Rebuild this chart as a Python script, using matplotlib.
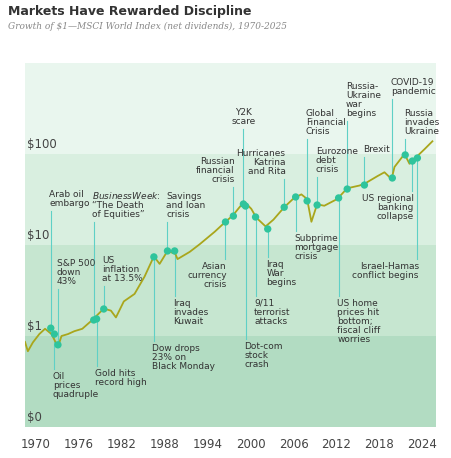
import matplotlib
matplotlib.use("Agg")
import matplotlib.pyplot as plt
from matplotlib.ticker import NullLocator
import numpy as np

plt.rcParams['font.family'] = ['Liberation Sans Narrow', 'DejaVu Sans']

years = [1968.5, 1968.9, 1969.6, 1970.5, 1971.3, 1972.2, 1973.1, 1973.6, 1974.5, 1975.4, 1976.5, 1977.9,
         1979.5, 1980.5, 1981.2, 1982.3, 1983.8, 1985.2, 1986.5, 1987.3, 1988.4, 1989.5, 1989.8,
         1991.5, 1992.9, 1995.0, 1996.5, 1997.5, 1999.1, 2000.1, 2000.8, 2002.1, 2003.2,
         2004.7, 2006.1, 2007.1, 2007.9, 2008.5, 2009.3, 2010.3, 2012.1, 2013.5, 2015.2,
         2015.9, 2017.7, 2018.7, 2019.7, 2020.1, 2021.5, 2022.2, 2023.3, 2024.3, 2025.4]
values = [0.86, 0.68, 0.85, 1.05, 1.2, 1.05, 0.76, 1.0, 1.05, 1.13, 1.2, 1.5,
          2.0, 1.9, 1.6, 2.4, 2.9, 4.5, 7.5, 6.2, 8.6, 8.0, 7.0,
          8.4, 10.2, 14, 18, 21, 30, 25, 20, 16, 19,
          26, 33, 36, 32, 18, 28, 27, 32, 42, 45,
          47, 57, 63, 53, 72, 100, 78, 95, 113, 138]

# (year, value, line end value, label, ha, direction)
events = [
    (1972.1, 1.22, 23.6, "Arab oil\nembargo", "left", "up"),
    (1972.6, 1.05, 0.43, "Oil\nprices\nquadruple", "left", "down"),
    (1973.1, 0.80, 3.28, "S&P 500\ndown\n43%", "left", "up"),
    (1978.1, 1.50, 17.9, "$\\it{BusinessWeek}$:\n\u201cThe Death\nof Equities\u201d", "left", "up"),
    (1978.5, 1.54, 0.47, "Gold hits\nrecord high", "left", "down"),
    (1979.5, 1.98, 3.54, "US\ninflation\nat 13.5%", "left", "up"),
    (1986.5, 7.4, 0.88, "Dow drops\n23% on\nBlack Monday", "left", "down"),
    (1988.4, 8.6, 17.9, "Savings\nand loan\ncrisis", "left", "up"),
    (1989.4, 8.6, 2.75, "Iraq\ninvades\nKuwait", "left", "down"),
    (1996.5, 17.9, 7.0, "Asian\ncurrency\ncrisis", "right", "down"),
    (1997.6, 20.8, 43.3, "Russian\nfinancial\ncrisis", "right", "up"),
    (1999.0, 28.2, 188, "Y2K\nscare", "center", "up"),
    (1999.3, 26.8, 0.93, "Dot-com\nstock\ncrash", "left", "down"),
    (2000.7, 20.3, 2.75, "9/11\nterrorist\nattacks", "left", "down"),
    (2002.4, 15.0, 7.4, "Iraq\nWar\nbegins", "left", "down"),
    (2004.7, 26.0, 53, "Hurricanes\nKatrina\nand Rita", "right", "up"),
    (2006.3, 33.7, 14.2, "Subprime\nmortgage\ncrisis", "left", "down"),
    (2007.9, 30.5, 146, "Global\nFinancial\nCrisis", "left", "up"),
    (2009.3, 27.5, 56, "Eurozone\ndebt\ncrisis", "left", "up"),
    (2012.3, 32.9, 2.75, "US home\nprices hit\nbottom;\nfiscal cliff\nworries", "left", "down"),
    (2013.5, 41.2, 230, "Russia-\nUkraine\nwar\nbegins", "left", "up"),
    (2015.9, 45.6, 92.5, "Brexit", "left", "up"),
    (2019.8, 54.5, 401, "COVID-19\npandemic", "left", "up"),
    (2021.6, 97.7, 146, "Russia\ninvades\nUkraine", "left", "up"),
    (2022.6, 83.7, 39.3, "US regional\nbanking\ncollapse", "right", "down"),
    (2023.3, 90.4, 7.0, "Israel-Hamas\nconflict begins", "right", "down"),
]

xticks = [1970, 1976, 1982, 1988, 1994, 2000, 2006, 2012, 2018, 2024]
ylevels = [0.1, 1, 10, 100]
ylabels = ["$0", "$1", "$10", "$100"]
band_colors = ["#b2dcc2", "#c6e6d0", "#d9efe0", "#e9f6ee"]

fig = plt.figure(figsize=(4.51, 4.58), dpi=100)
ax = fig.add_axes([25/451, 31/458, 411/451, 364/458])
ax.set_yscale("log")
ax.set_xlim(1968.5, 2025.9)
ax.set_ylim(0.1, 1000)
edges = [0.1, 1, 10, 100, 1000]
for i, c in enumerate(band_colors):
    ax.axhspan(edges[i], edges[i+1], color=c, lw=0, zorder=0)
for s in ax.spines.values():
    s.set_visible(False)
ax.set_yticks([])
ax.yaxis.set_minor_locator(NullLocator())
ax.set_xticks(xticks)
ax.set_xticklabels([str(t) for t in xticks], fontsize=8.5, color="#444444")
ax.tick_params(axis="x", length=0, pad=8)
for lv, lb in zip(ylevels, ylabels):
    ax.annotate(lb, (1968.8, lv), xytext=(0, 2), textcoords="offset points",
                fontsize=8.5, color="#444444", va="bottom", ha="left")

for (yr, v, end, lab, ha, d) in events:
    ax.plot([yr, yr], [v, end], color="#5fd0c6", lw=0.8, zorder=2)
    off = 2 if d == "up" else -2
    dx = {"left": -1, "right": 1, "center": 0}[ha]
    ax.annotate(lab, (yr, end), xytext=(dx, off), textcoords="offset points",
                ha=ha, va="bottom" if d == "up" else "top", fontsize=6.5,
                color="#333333", linespacing=1.0)

ax.plot(years, values, color="#a9a61c", lw=1.3, zorder=3)
ax.scatter([e[0] for e in events], [e[1] for e in events], s=28, color="#2fc49c",
           zorder=4, edgecolors="none")

fig.text(8/451, 1 - 5/458, "Markets Have Rewarded Discipline", fontsize=9,
         fontweight="bold", color="#333333", va="top", family="DejaVu Sans")
fig.text(8/451, 1 - 22/458, "Growth of $1\u2014MSCI World Index (net dividends), 1970-2025",
         fontsize=6.5, style="italic", color="#888888", va="top", family="DejaVu Serif")

fig.savefig("out.png", dpi=100)
